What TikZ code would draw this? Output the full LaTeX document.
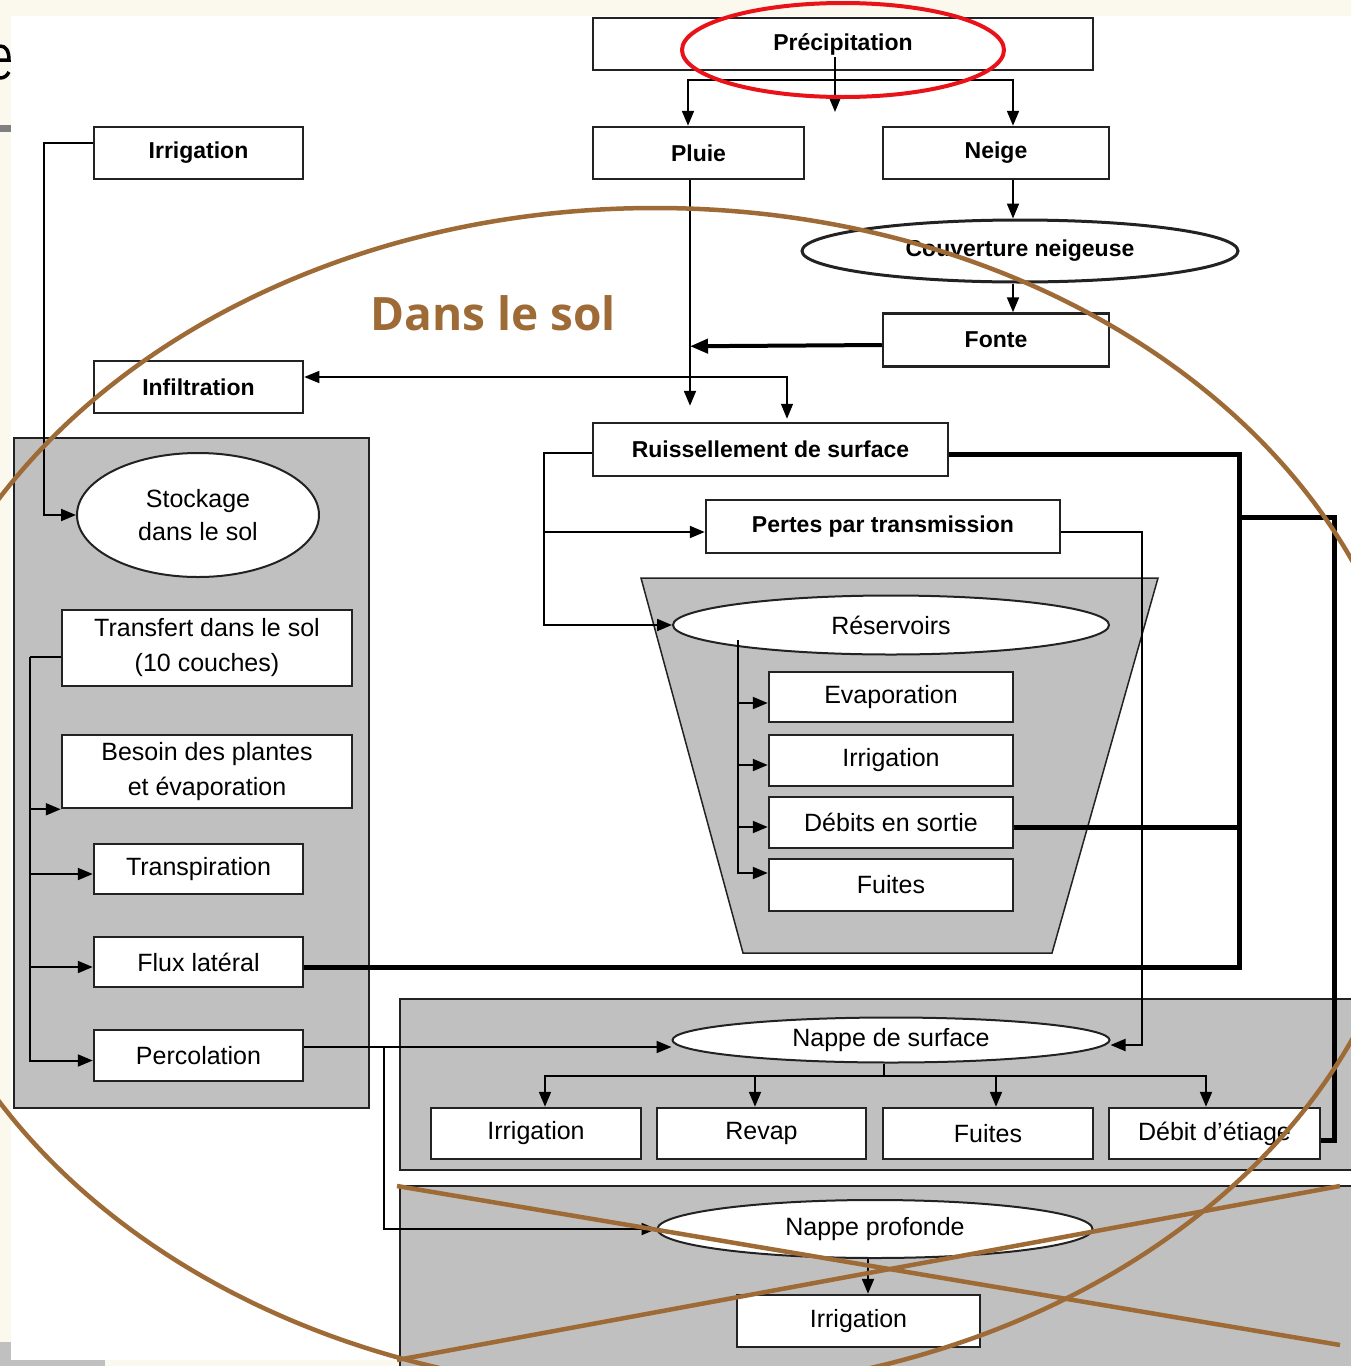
\documentclass[tikz,border=0pt]{standalone}
\usepackage{fontspec}
\setmainfont{Liberation Sans}
\newfontfamily\titrefont{Open Sans}
\usetikzlibrary{shapes.geometric}
\usetikzlibrary{arrows.meta}
\definecolor{creme}{RGB}{251,249,238}
\definecolor{brun}{RGB}{158,107,55}
\definecolor{rouge}{RGB}{232,18,24}
\definecolor{gris}{RGB}{192,192,192}
\definecolor{trait}{RGB}{34,34,34}
\tikzset{
    boite/.style = {rectangle, draw=trait, line width=2.5pt, fill=white, inner sep=0pt, align=center, font=\fontsize{25}{35}\selectfont},
    boiteg/.style = {boite, font=\fontsize{23}{28}\selectfont\bfseries},
    ovale/.style = {ellipse, draw=trait, line width=2pt, fill=white, inner sep=0pt, align=center, font=\fontsize{25}{33}\selectfont},
    panneau/.style = {draw=trait, line width=2.5pt, fill=gris},
    edgen/.style = {-{Triangle[length=15pt,width=12pt]}, line width=2pt, black},
    edged/.style = {{Triangle[length=15pt,width=12pt]}-{Triangle[length=15pt,width=12pt]}, line width=1.5pt, black},
    edgel/.style = {line width=2pt, black},
    edgek/.style = {line width=5pt, black},
    edgekn/.style = {-{Triangle[length=18pt,width=14pt]}, line width=4pt, black},
    edgeb/.style = {line width=4.5pt, brun}, % rature
}

\begin{document}
\begin{tikzpicture}[x=1pt, y=-1pt]
  \useasboundingbox (0,0) rectangle (1351,1366);
  \clip (0,0) rectangle (1351,1366);
  % fond
  \fill[creme] (0,0) rectangle (1351,1366);
  \draw[line width=3.5pt] (0,46) .. controls (6,46) and (9,51) .. (9,60) -- (0,60);
  \draw[line width=3.5pt] (0,78) .. controls (4,78) and (7,76) .. (9,72);
  \fill[gray] (0,125) rectangle (11,132);
  \fill[gris] (0,1342) rectangle (105,1366);
  \fill[white] (11,16) rectangle (1351,1360);

  % panneaux
  \draw[panneau] (14,438) rectangle (369,1108);
  \draw[panneau] (400,999) rectangle (1365,1170);
  \draw[panneau] (400,1186) rectangle (1365,1380);
  \draw[draw=trait, line width=1.5pt, fill=gris] (641,578) -- (1158,578) -- (1052,953) -- (743,953) -- cycle;

  % haut
  \node[boiteg, minimum width=500pt, minimum height=52pt] (precip) at (843,44) {Précipitation};
  \node[boiteg, minimum width=211pt, minimum height=52pt] (pluie) at (698.5,153) {Pluie};
  \node[boiteg, minimum width=226pt, minimum height=52pt] (neige) at (996,153) {Neige};
  \node[boiteg, minimum width=209pt, minimum height=52pt] (irrtop) at (198.5,153) {Irrigation};
  \node[ovale, line width=3pt, font=\fontsize{23}{28}\selectfont\bfseries, minimum width=436pt, minimum height=62pt] (couv) at (1020,251) {Couverture neigeuse};
  \node[boiteg, minimum width=226pt, minimum height=53pt] (fonte) at (996,340) {Fonte};
  \node[boiteg, minimum width=209pt, minimum height=52pt] (infil) at (198.5,387) {Infiltration};
  \node[boiteg, minimum width=355pt, minimum height=53pt] (ruis) at (770.5,449.5) {Ruissellement de surface};
  \node[boiteg, minimum width=354pt, minimum height=53pt] (pertes) at (883,526.5) {Pertes par transmission};

  % sol
  \node[ovale, minimum width=242pt, minimum height=124pt] (stock) at (198,515) {Stockage\\dans le sol};
  \node[boite, minimum width=290pt, minimum height=76pt] (transf) at (207,648) {Transfert dans le sol\\(10 couches)};
  \node[boite, minimum width=290pt, minimum height=73pt] (besoin) at (207,771.5) {Besoin des plantes\\et évaporation};
  \node[boite, minimum width=209pt, minimum height=50pt] (transp) at (198.5,869) {Transpiration};
  \node[boite, minimum width=209pt, minimum height=50pt] (flux) at (198.5,962) {Flux latéral};
  \node[boite, minimum width=209pt, minimum height=51pt] (percol) at (198.5,1055.5) {Percolation};

  % reservoirs
  \node[ovale, minimum width=436pt, minimum height=59pt] (reserv) at (891,625) {Réservoirs};
  \node[boite, minimum width=244pt, minimum height=50pt] (evap) at (891,697) {Evaporation};
  \node[boite, minimum width=244pt, minimum height=51pt] (irrres) at (891,760.5) {Irrigation};
  \node[boite, minimum width=244pt, minimum height=51pt] (debits) at (891,822.5) {Débits en sortie};
  \node[boite, minimum width=244pt, minimum height=52pt] (fuitres) at (891,885) {Fuites};

  % nappes
  \node[ovale, minimum width=437pt, minimum height=45pt] (nappesurf) at (891,1040) {Nappe de surface};
  \node[boite, minimum width=210pt, minimum height=51pt] (irrns) at (536,1133.5) {Irrigation};
  \node[boite, minimum width=209pt, minimum height=51pt] (revap) at (761.5,1133.5) {Revap};
  \node[boite, minimum width=210pt, minimum height=51pt] (fuitns) at (988,1133.5) {Fuites};
  \node[boite, minimum width=211pt, minimum height=51pt] (etiage) at (1214.5,1133.5) {Débit d’étiage};
  \node[ovale, minimum width=435pt, minimum height=58pt] (nappeprof) at (875,1229) {Nappe profonde};
  \node[boite, minimum width=243pt, minimum height=52pt] (irrdeep) at (858.5,1321) {Irrigation};

  % liaisons
  \coordinate (pc) at (835,57);
  \coordinate (pb) at (835,112);
  \coordinate (split) at (835,80);
  \draw[edgen] (pc) -- (pb);
  \draw[edgen] (split) -| ([xshift=-10.5pt]pluie.north);
  \draw[edgen] (split) -| ([xshift=17pt]neige.north);
  \draw[edgen] ([xshift=-8.5pt]pluie.south) -- ([xshift=-80.5pt,yshift=16pt]ruis.north);
  \draw[edgen] ([xshift=17pt]neige.south) -- ([xshift=-7pt]couv.north);
  \draw[edgen] ([xshift=-7pt]couv.south) -- ([xshift=17pt]fonte.north);
  \coordinate (descente) at ([xshift=-8.5pt,yshift=-166pt]pluie.south);
  \draw[edgekn] ([yshift=-5pt]fonte.west) -- (descente);
  \draw[edged] ([yshift=10pt]infil.east) -| ([xshift=16.5pt,yshift=3pt]ruis.north);
  \draw[edgen] ([yshift=10pt]irrtop.west) -- ++(-49,0) |- (stock.west);

  \coordinate (tt) at (30,657);
  \draw[edgel] ([yshift=-9pt]transf.west) -- (tt);
  \draw[edgen] (tt) |- (besoin.south west);
  \foreach \n in {transp,flux,percol}
    \draw[edgen] (tt) |- ([yshift=-5pt]\n.west);

  \draw[edgen] ([yshift=-3.5pt]ruis.west) -- ++(-48,0) |- (reserv.west);
  \coordinate (rb) at (545,532);
  \draw[edgen] (rb) -- ([yshift=-5.5pt]pertes.west);
  \draw[edgen] ([yshift=-5.5pt]pertes.east) -- ++(81,0) |- ([yshift=-5pt]nappesurf.east);

  \coordinate (rt) at (738,640);
  \foreach \n/\d in {evap/-6,irrres/-4.5,debits/-4.5,fuitres/12}
    \draw[edgen] (rt) |- ([yshift=\d pt]\n.west);

  % traits epais
  \draw[edgek] ([yshift=-5pt]flux.east) -- ++(935,0) |- ([yshift=-5pt]ruis.east);
  \draw[edgek] ([yshift=-5pt]debits.east) -- ++(225,0);
  \coordinate (bus) at (1238,517);
  \draw[edgek] (bus) -| ([xshift=13pt,yshift=-6.5pt]etiage.east) -- ([yshift=-6.5pt]etiage.east);

  \coordinate (pe) at ([yshift=8.5pt]percol.east);
  \draw[edgen] (pe) -- (pe -| nappesurf.west);
  \draw[edgen] (pe) ++(80,0) |- (nappeprof.west);

  \coordinate (nb) at (884,1076);
  \draw[edgel] (nappesurf.south -| nb) -- (nb);
  \draw[edgen] (nb) -| ([xshift=9pt]irrns.north);
  \draw[edgen] (nb) -| ([xshift=-6.5pt]revap.north);
  \draw[edgen] (nb) -| ([xshift=8pt]fuitns.north);
  \draw[edgen] (nb) -| ([xshift=-8.5pt]etiage.north);
  \draw[edgen] ([xshift=-7pt]nappeprof.south) -- ([xshift=9.5pt]irrdeep.north);

  % annotations
  \node[font=\titrefont\fontsize{46}{50}\selectfont\bfseries, text=brun] (titre) at (493,313) {Dans le sol};
  \draw[edgeb] (655,800) ellipse [x radius=762pt, y radius=592pt];
  \draw[edgeb] (397,1186) -- (1340,1345);
  \draw[edgeb] (397,1360) -- (1340,1186);
  \draw[rouge, line width=4pt] (843,50) ellipse [x radius=161pt, y radius=47pt];
\end{tikzpicture}
\end{document}
